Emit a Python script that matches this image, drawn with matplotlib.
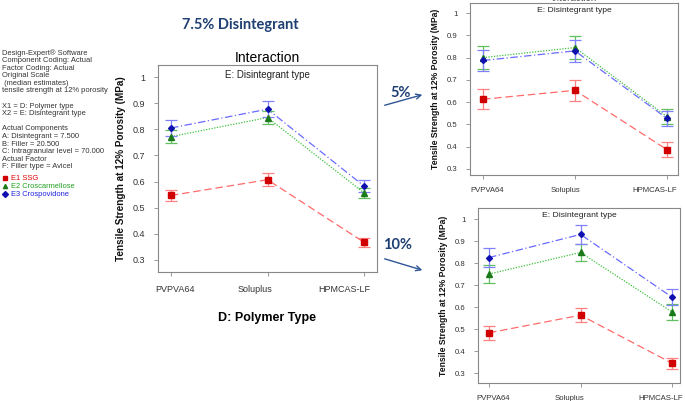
import matplotlib.pyplot as plt
from matplotlib.patches import FancyArrowPatch

plt.rcParams["font.family"] = ["Liberation Sans", "DejaVu Sans"]

W, H = 685, 401

polymers = ["PVPVA64", "Soluplus", "HPMCAS-LF"]
series_names = ["E1 SSG", "E2 Croscarmellose", "E3 Crospovidone"]

# 7.5 % disintegrant (main panel)
ssg_75 = [0.547, 0.607, 0.368]
ssg_75_err = [0.022, 0.024, 0.018]
cros_75 = [0.772, 0.845, 0.557]
cros_75_err = [0.024, 0.025, 0.020]
crosp_75 = [0.805, 0.877, 0.583]
crosp_75_err = [0.030, 0.030, 0.022]

# 5 % disintegrant
ssg_5 = [0.613, 0.653, 0.387]
ssg_5_err = [0.045, 0.047, 0.033]
cros_5 = [0.800, 0.845, 0.535]
cros_5_err = [0.050, 0.050, 0.035]
crosp_5 = [0.787, 0.830, 0.527]
crosp_5_err = [0.047, 0.050, 0.035]

# 10 % disintegrant
ssg_10 = [0.483, 0.563, 0.345]
ssg_10_err = [0.032, 0.033, 0.025]
cros_10 = [0.750, 0.848, 0.578]
cros_10_err = [0.040, 0.040, 0.035]
crosp_10 = [0.825, 0.930, 0.645]
crosp_10_err = [0.045, 0.045, 0.035]

yticks = [0.3, 0.4, 0.5, 0.6, 0.7, 0.8, 0.9, 1.0]
ytick_labels = ["0.3", "0.4", "0.5", "0.6", "0.7", "0.8", "0.9", "1"]

info_lines = [
    "Design-Expert® Software",
    "Component Coding: Actual",
    "Factor Coding: Actual",
    "Original Scale",
    " (median estimates)",
    "tensile strength at 12% porosity",
    "",
    "X1 = D: Polymer type",
    "X2 = E: Disintegrant type",
    "",
    "Actual Components",
    "A: Disintegrant = 7.500",
    "B: Filler = 20.500",
    "C: Intragranular level = 70.000",
    "Actual Factor",
    "F: Filler type = Avicel",
]

styles = [
    dict(ls=(0, (6, 3)), line="#ff6a6a", err="#ff8080", marker="s", mc="#d00000", ms=4),
    dict(ls=(0, (1, 1.2)), line="#40c040", err="#60c060", marker="^", mc="#1a7a1a", ms=4),
    dict(ls=(0, (6, 2, 1, 2)), line="#6a6aff", err="#8080ff", marker="D", mc="#1010b0", ms=3),
]

navy = "#1f3f73"

fig = plt.figure(figsize=(W / 100, H / 100), dpi=100)


def px_axes(left, top, right, bottom):
    return fig.add_axes([left / W, 1 - bottom / H, (right - left) / W, (bottom - top) / H])


def panel(ax, data, ylim, xlim, label_pos, tick_size, label_size):
    x = range(len(polymers))
    for (vals, errs), st in zip(data, styles):
        ax.plot(x, vals, linestyle=st["ls"], color=st["line"], lw=0.9, zorder=2)
        ax.errorbar(x, vals, yerr=errs, fmt="none", ecolor=st["err"], elinewidth=0.9,
                    capsize=4, capthick=0.9, zorder=3)
        ax.plot(x, vals, linestyle="none", marker=st["marker"], color=st["mc"],
                markersize=st["ms"], markeredgecolor=st["mc"], zorder=4)
    ax.set_xlim(*xlim)
    ax.set_ylim(*ylim)
    # ticks at the factor levels, the labels sit slightly off them as in the original export
    ax.set_xticks(list(x))
    ax.set_xticklabels([])
    ax.set_xticks(label_pos, minor=True)
    ax.set_xticklabels(polymers, minor=True, fontsize=tick_size, color="#333333")
    ax.tick_params(axis="x", which="minor", length=0, pad=9)
    ax.set_yticks(yticks)
    ax.set_yticklabels(ytick_labels, fontsize=tick_size, color="#333333")
    ax.tick_params(which="major", length=3, width=0.6, color="#888888", pad=6)
    for s in ax.spines.values():
        s.set_color("#888888")
        s.set_linewidth(0.8)
    ax.text(0.5, 0.975, "E: Disintegrant type", transform=ax.transAxes, ha="center",
            va="top", fontsize=tick_size + 0.5, color="#222222")
    ax.set_ylabel("Tensile Strength at 12% Porosity (MPa)", fontsize=label_size,
                  fontweight="bold", color="#111111", labelpad=5)


# main panel (7.5 %)
ax_main = px_axes(158, 65, 377, 272)
panel(ax_main, [(ssg_75, ssg_75_err), (cros_75, cros_75_err), (crosp_75, crosp_75_err)],
      (0.254, 1.046), (-0.135, 2.135), [0.04, 0.87, 1.80], 6.5, 7.2)
ax_main.set_title("Interaction", fontsize=10, pad=2)
ax_main.set_xlabel("D: Polymer Type", fontsize=9, fontweight="bold", labelpad=13)

# 5 % panel
ax_5 = px_axes(470, 3, 678, 175)
panel(ax_5, [(ssg_5, ssg_5_err), (cros_5, cros_5_err), (crosp_5, crosp_5_err)],
      (0.273, 1.045), (-0.141, 2.12), [0.05, 0.9, 1.87], 5.6, 6.2)
ax_5.set_title("Interaction", fontsize=7, pad=1, color="#555555")

# 10 % panel
ax_10 = px_axes(478, 208, 680, 383)
panel(ax_10, [(ssg_10, ssg_10_err), (cros_10, cros_10_err), (crosp_10, crosp_10_err)],
      (0.255, 1.05), (-0.12, 2.087), [0.05, 0.88, 1.88], 5.6, 6.2)

# left info block
y0, dy = 53, 7.6
for i, line in enumerate(info_lines):
    fig.text(2 / W, 1 - (y0 + i * dy) / H, line, fontsize=5.4, color="#333333", va="center")
legend_colors = ["#e00000", "#20a020", "#2020e0"]
for i, (name, st, c) in enumerate(zip(series_names, styles, legend_colors)):
    yy = 1 - (178 + i * 8) / H
    fig.lines.append(plt.Line2D([5 / W], [yy], transform=fig.transFigure, marker=st["marker"],
                                color=st["mc"], markersize=3, linestyle="none"))
    fig.text(11 / W, yy, name, fontsize=5.4, color=c, va="center")

# headline and arrows
fig.text(240 / W, 1 - 25 / H, "7.5% Disintegrant", fontsize=10.5, fontweight="bold",
         color=navy, family="Lato", ha="center", va="center")
fig.text(401 / W, 1 - 93 / H, "5%", fontsize=10.5, fontweight="bold", color=navy,
         family="Lato", ha="center", va="center")
fig.text(398 / W, 1 - 245 / H, "10%", fontsize=10.5, fontweight="bold", color=navy,
         family="Lato", ha="center", va="center")
for (xa, ya), (xb, yb) in [((382, 106), (425, 94)), ((382, 258), (425, 271))]:
    fig.add_artist(FancyArrowPatch((xa / W, 1 - ya / H), (xb / W, 1 - yb / H),
                                   transform=fig.transFigure, arrowstyle="->",
                                   mutation_scale=9, color="#2f5597", lw=1))

fig.savefig("out.png", dpi=100)
